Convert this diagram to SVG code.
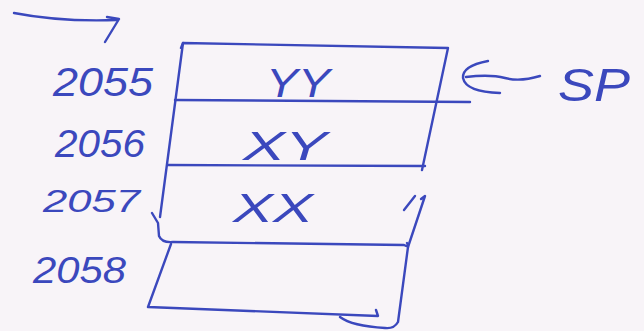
<svg xmlns="http://www.w3.org/2000/svg" width="644" height="331" viewBox="0 0 644 331">
<style>
.ln{fill:none;stroke:#3b48bd;stroke-width:2.4;stroke-linecap:round;stroke-linejoin:round}
.t{font-family:"Liberation Sans","DejaVu Sans",sans-serif;fill:#3b48bd;font-style:italic}
</style>
<rect width="644" height="331" fill="#f8f4f8"/>
<g id="connectors">
<path class="ln" d="M14 13 Q60 22 117 20"/>
<path class="ln" d="M107 17 L119 19 L105 42"/>
<path class="ln" d="M488 61 Q462 66 463 78 Q466 92 500 93"/>
<path class="ln" d="M466 77 Q490 74 505 78 Q520 82 540 76"/>
</g>
<g id="cell-2055">
<path class="ln" d="M181 48 L183 43 L448 48 L422 170"/>
<path class="ln" d="M175 100 L470 102"/>
<text class="t" x="53" y="96" font-size="40" textLength="100" lengthAdjust="spacingAndGlyphs">2055</text>
<text class="t" x="266" y="97" font-size="40" textLength="64" lengthAdjust="spacingAndGlyphs">YY</text>
</g>
<g id="cell-2056">
<path class="ln" d="M183 43 L160 217"/>
<path class="ln" d="M168 165 L425 166"/>
<text class="t" x="55" y="157" font-size="38" textLength="90" lengthAdjust="spacingAndGlyphs">2056</text>
<text class="t" x="243" y="160" font-size="40" textLength="84" lengthAdjust="spacingAndGlyphs">XY</text>
</g>
<g id="cell-2057">
<path class="ln" d="M152 213 L158 223 L159 236 Q162 243 173 242 L404 245 Q410 248 407 243"/>
<path class="ln" d="M404 210 L415 196"/>
<path class="ln" d="M421 199 L425 196 L408 247"/>
<text class="t" x="43" y="212" font-size="32" textLength="97" lengthAdjust="spacingAndGlyphs">2057</text>
<text class="t" x="233" y="222" font-size="40" textLength="80" lengthAdjust="spacingAndGlyphs">XX</text>
</g>
<g id="cell-2058">
<path class="ln" d="M171 244 L148 307 L378 316 L376 310"/>
<path class="ln" d="M408 247 L398 322 Q394 329 385 328 Q352 326 340 317"/>
<text class="t" x="33" y="283" font-size="36" textLength="93" lengthAdjust="spacingAndGlyphs">2058</text>
</g>
<g id="sp-label">
<text class="t" x="558" y="101" font-size="46" textLength="72" lengthAdjust="spacingAndGlyphs">SP</text>
</g>
</svg>
